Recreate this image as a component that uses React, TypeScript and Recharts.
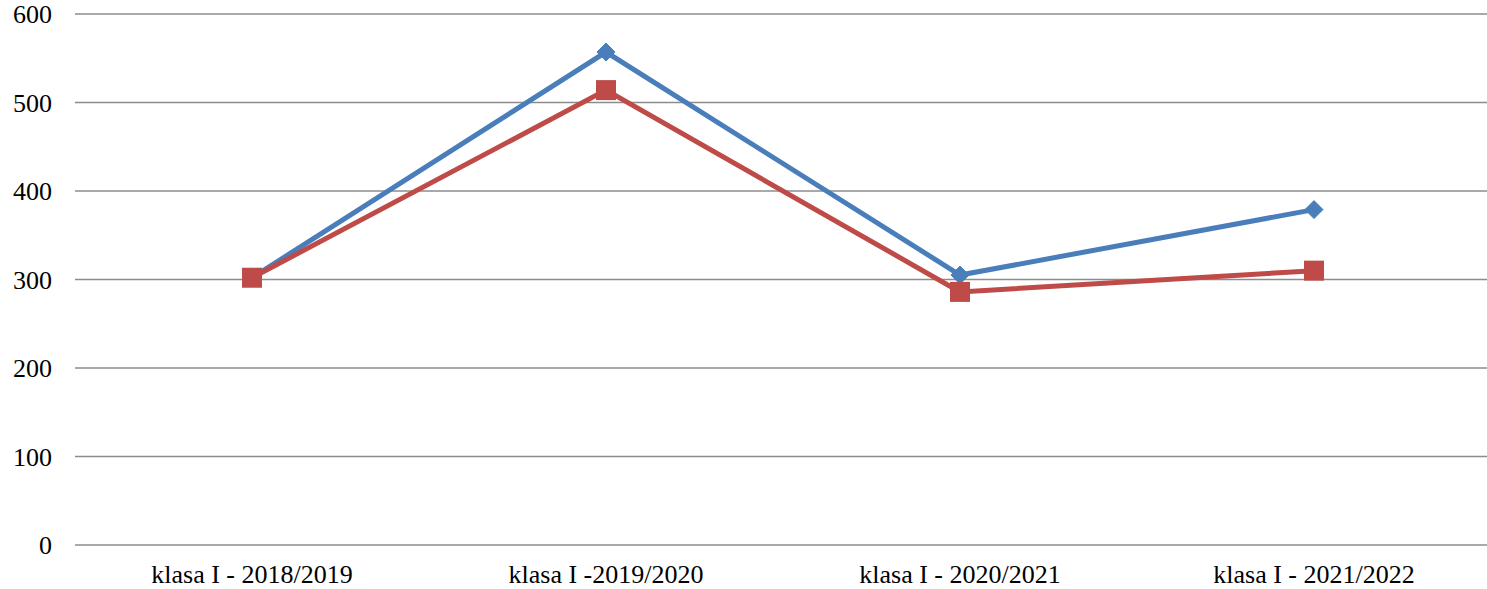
import React from "react";
import { LineChart, Line, XAxis, YAxis, CartesianGrid } from "recharts";

const categories = [
  "klasa I - 2018/2019",
  "klasa I -2019/2020",
  "klasa I - 2020/2021",
  "klasa I - 2021/2022",
];
const seriesBlue = [302, 557, 305, 379];
const seriesRed = [302, 514, 286, 310];
const yTicks = [0, 100, 200, 300, 400, 500, 600];

const data = categories.map((c, i) => ({
  name: c,
  blue: seriesBlue[i],
  red: seriesRed[i],
}));

const BLUE = "#4A7EBB";
const RED = "#BE4B48";
const FONT = "Liberation Serif";

const Diamond = (props: any) => {
  const { cx, cy, index } = props;
  if (cx == null || cy == null) return <g key={index} />;
  const r = 9;
  return (
    <polygon
      key={index}
      points={`${cx},${cy - r} ${cx + r},${cy} ${cx},${cy + r} ${cx - r},${cy}`}
      fill={BLUE}
      stroke={BLUE}
      strokeWidth={1}
    />
  );
};

const Square = (props: any) => {
  const { cx, cy, index } = props;
  if (cx == null || cy == null) return <g key={index} />;
  const s = 20;
  return <rect key={index} x={cx - s / 2} y={cy - s / 2} width={s} height={s} fill={RED} />;
};

const XTick = (props: any) => {
  const { x, y, payload } = props;
  return (
    <text x={x} y={y} dy="0.71em" textAnchor="middle" fontFamily={FONT} fontSize={26} fill="#000">
      {payload.value}
    </text>
  );
};

const YTick = (props: any) => {
  const { x, y, payload } = props;
  return (
    <text x={x} y={y} dy="0.355em" textAnchor="end" fontFamily={FONT} fontSize={26} fill="#000">
      {payload.value}
    </text>
  );
};

export default function App() {
  return (
    <div style={{ position: "absolute", left: 0, top: 0, width: 1487, height: 589 }}>
      <LineChart
        width={1487}
        height={589}
        data={data}
        margin={{ top: 14, right: 0, bottom: 0, left: 0 }}
      >
        <CartesianGrid vertical={false} stroke="#8c8c8c" strokeWidth={1.5} />
        <XAxis
          dataKey="name"
          tickLine={false}
          axisLine={false}
          height={44}
          tickMargin={14}
          tick={<XTick />}
          interval={0}
          padding={{ left: 177, right: 173 }}
        />
        <YAxis
          domain={[0, 600]}
          ticks={yTicks}
          tickLine={false}
          axisLine={false}
          width={75}
          tickMargin={17}
          tick={<YTick />}
          interval={0}
        />
        <Line
          dataKey="blue"
          stroke={BLUE}
          strokeWidth={5}
          dot={<Diamond />}
          activeDot={false}
          isAnimationActive={false}
        />
        <Line
          dataKey="red"
          stroke={RED}
          strokeWidth={5}
          dot={<Square />}
          activeDot={false}
          isAnimationActive={false}
        />
      </LineChart>
    </div>
  );
}
